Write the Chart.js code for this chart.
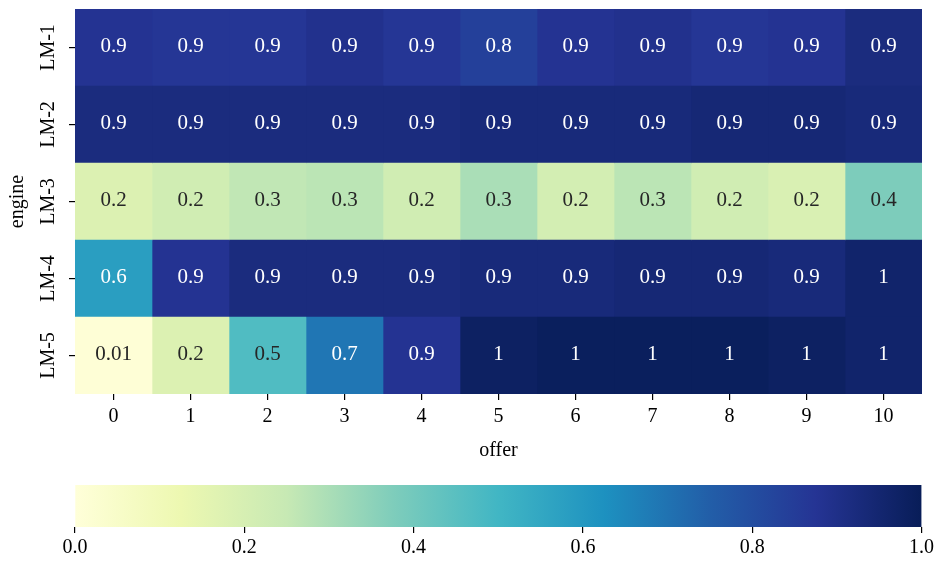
<!DOCTYPE html>
<html>
<head>
<meta charset="utf-8">
<title>engine vs offer heatmap</title>
<script src="https://cdn.jsdelivr.net/npm/chart.js@4.4.0/dist/chart.umd.min.js"></script>
<style>
  html, body { margin: 0; padding: 0; background: #fff; }
  #wrap { position: relative; width: 937px; height: 563px; }
  .box { position: absolute; left: 0; width: 937px; }
</style>
</head>
<body>
<div id="wrap">
  <div class="box" style="top:0;height:470px"><canvas id="heat"></canvas></div>
  <div class="box" style="top:470px;height:93px"><canvas id="cbar"></canvas></div>
</div>
<script>
// data
const engines = ['LM-1', 'LM-2', 'LM-3', 'LM-4', 'LM-5'];
const offers = [0, 1, 2, 3, 4, 5, 6, 7, 8, 9, 10];
const lm1 = [0.88, 0.87, 0.87, 0.89, 0.87, 0.84, 0.88, 0.89, 0.87, 0.88, 0.92];
const lm2 = [0.92, 0.92, 0.92, 0.92, 0.92, 0.93, 0.93, 0.93, 0.94, 0.94, 0.93];
const lm3 = [0.18, 0.22, 0.26, 0.27, 0.22, 0.30, 0.21, 0.27, 0.22, 0.19, 0.38];
const lm4 = [0.58, 0.88, 0.92, 0.92, 0.92, 0.93, 0.93, 0.94, 0.94, 0.93, 0.96];
const lm5 = [0.01, 0.18, 0.47, 0.69, 0.88, 0.98, 0.99, 0.99, 0.99, 0.98, 0.96];
const rows = [lm1, lm2, lm3, lm4, lm5];
const colorbarTicks = [0, 0.2, 0.4, 0.6, 0.8, 1.0];

// YlGnBu colour map
const ylgnbu = [
    [255, 255, 217], [237, 248, 177], [199, 233, 180], [127, 205, 187],
    [65, 182, 196], [29, 145, 192], [34, 94, 168], [37, 52, 148], [8, 29, 88]
];

function cmap(v) {
    const t = Math.min(1, Math.max(0, v)) * (ylgnbu.length - 1);
    const i = Math.min(ylgnbu.length - 2, Math.floor(t));
    const f = t - i;
    const a = ylgnbu[i], b = ylgnbu[i + 1];
    const c = a.map((x, k) => Math.round(x + (b[k] - x) * f));
    return `rgb(${c[0]}, ${c[1]}, ${c[2]})`;
}

// same as matplotlib's '.1g'
function fmt(v) {
    return String(Number(v.toPrecision(1)));
}

const FONT = '"Liberation Serif", "Times New Roman", serif';
Chart.defaults.font.family = FONT;
Chart.defaults.color = '#000';

const tickGrid = {
    display: true,
    drawOnChartArea: false,
    drawTicks: true,
    tickLength: 6,
    color: '#000',
    lineWidth: 1.2,
    offset: false
};

const cellLabels = {
    id: 'cellLabels',
    afterDatasetsDraw(chart) {
        const ctx = chart.ctx;
        ctx.save();
        ctx.font = `21px ${FONT}`;
        ctx.textAlign = 'center';
        ctx.textBaseline = 'middle';
        chart.data.datasets.forEach((ds, c) => {
            chart.getDatasetMeta(c).data.forEach((bar, r) => {
                const v = rows[r][c];
                ctx.fillStyle = v > 0.55 ? '#ffffff' : '#262626';
                ctx.fillText(fmt(v), (bar.x + bar.base) / 2, bar.y - 1);
            });
        });
        ctx.restore();
    }
};

new Chart(document.getElementById('heat'), {
    type: 'bar',
    data: {
        labels: engines,
        datasets: offers.map((o, c) => ({
            data: engines.map(() => [o - 0.5, o + 0.5]),
            backgroundColor: rows.map(r => cmap(r[c])),
            borderWidth: 0,
            grouped: false,
            barPercentage: 1,
            categoryPercentage: 1
        }))
    },
    options: {
        indexAxis: 'y',
        responsive: true,
        maintainAspectRatio: false,
        animation: false,
        layout: { padding: { top: 9, right: 15, left: 0, bottom: 0 } },
        plugins: { legend: { display: false }, tooltip: { enabled: false } },
        scales: {
            x: {
                type: 'linear',
                min: -0.5,
                max: 10.5,
                afterBuildTicks: s => { s.ticks = offers.map(v => ({ value: v })); },
                afterFit: s => { s.height = 76; },
                grid: tickGrid,
                border: { display: false },
                ticks: { font: { size: 20 }, padding: 5, maxRotation: 0 },
                title: { display: true, text: 'offer', font: { size: 20 }, padding: { top: 0, bottom: 7 } }
            },
            y: {
                afterFit: s => { s.width = 75; },
                grid: tickGrid,
                border: { display: false },
                ticks: { font: { size: 20 }, minRotation: 90, maxRotation: 90, crossAlign: 'center', padding: -3 },
                title: { display: true, text: 'engine', font: { size: 20 }, padding: { top: 6, bottom: 0 } }
            }
        }
    },
    plugins: [cellLabels]
});

new Chart(document.getElementById('cbar'), {
    type: 'bar',
    data: {
        labels: ['colorbar'],
        datasets: [{
            data: [[colorbarTicks[0], colorbarTicks[colorbarTicks.length - 1]]],
            backgroundColor: (ctx) => {
                const area = ctx.chart.chartArea;
                if (!area) return null;
                const g = ctx.chart.ctx.createLinearGradient(area.left, 0, area.right, 0);
                ylgnbu.forEach((c, i) => g.addColorStop(i / (ylgnbu.length - 1), `rgb(${c[0]}, ${c[1]}, ${c[2]})`));
                return g;
            },
            borderWidth: 0,
            barPercentage: 1,
            categoryPercentage: 1
        }]
    },
    options: {
        indexAxis: 'y',
        responsive: true,
        maintainAspectRatio: false,
        animation: false,
        layout: { padding: { top: 15, right: 15, left: 75, bottom: 0 } },
        plugins: { legend: { display: false }, tooltip: { enabled: false } },
        scales: {
            x: {
                type: 'linear',
                min: 0,
                max: 1,
                afterBuildTicks: s => { s.ticks = colorbarTicks.map(v => ({ value: v })); },
                afterFit: s => { s.height = 36; },
                grid: tickGrid,
                border: { display: false },
                ticks: { font: { size: 20 }, padding: 3, maxRotation: 0, callback: v => v.toFixed(1) }
            },
            y: { display: false }
        }
    }
});
</script>
</body>
</html>
